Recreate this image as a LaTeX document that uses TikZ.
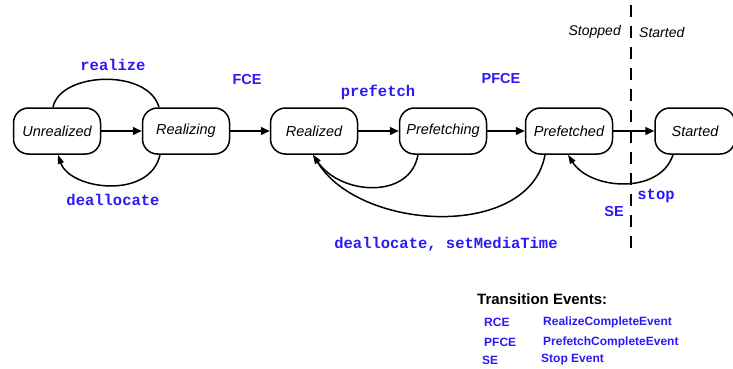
\documentclass[tikz,border=0pt]{standalone}
\usepackage{fontspec}
\setmainfont{Liberation Sans}
\newfontfamily\monob{Liberation Mono}[BoldFont={* Bold}]
\usetikzlibrary{arrows.meta}
\definecolor{lblue}{RGB}{45,25,245}
\tikzset{
  state/.style={draw, line width=1.5pt, rounded corners=15pt, minimum width=87pt, minimum height=46pt, inner sep=0pt, font=\fontsize{14.5}{16}\selectfont\itshape},
  tr/.style={line width=1.5pt, -{Triangle[length=9pt,width=8pt]}},
  arc/.style={line width=1.5pt},
  arcar/.style={line width=1.5pt, -{Triangle[length=9pt,width=6pt]}},
  cmd/.style={text=lblue, font=\fontsize{15.5}{17}\selectfont\monob\bfseries, inner sep=0pt},
  ev/.style={text=lblue, font=\fontsize{14.5}{16}\selectfont\bfseries, inner sep=0pt},
  leg/.style={text=lblue, font=\fontsize{12}{14}\selectfont\bfseries, inner sep=0pt, anchor=west},
}
\begin{document}
\begin{tikzpicture}[x=1pt,y=-1pt]
\useasboundingbox (0,0) rectangle (733,369);
% states
\node[state] (u)  at (57,131)  {Unrealized};
\node[state] (rz) at (186,131) {Realizing};
\node[state] (rd) at (314,131) {Realized};
\node[state] (pf) at (443,131) {Prefetching};
\node[state] (pd) at (569,131) {Prefetched};
\node[state, minimum width=80pt] (st) at (695,131) {Started};
% straight transitions
\draw[tr] (u) -- (rz);
\draw[tr] (rz) -- (rd);
\draw[tr] (rd) -- (pf);
\draw[tr] (pf) -- (pd);
\draw[tr] (pd) -- (st);
% realize / deallocate
\draw[arc] ([xshift=-4pt]u.north) .. controls (60,72) and (148,68) .. ([xshift=-27pt]rz.north);
\draw[arcar] ([xshift=-26pt]rz.south) .. controls (150,200) and (70,190) .. ([xshift=1pt]u.south);
% back to realized
\draw[arcar] ([xshift=-25pt]pf.south) .. controls (410,200) and (340,195) .. ([xshift=-1pt]rd.south);
\draw[arcar] ([xshift=-24pt]pd.south) .. controls (530,240) and (360,232) .. ([xshift=-1pt]rd.south);
% stop
\draw[arcar] ([xshift=-22pt]st.south) .. controls (660,195) and (590,190) .. ([xshift=-1pt]pd.south);
% dashed boundary
\coordinate (dtop) at (631,5);
\coordinate (dbot) at (631,256);
\draw[line width=1.2pt, dash pattern=on 12pt off 9pt] (dtop) -- (dbot);
% labels
\node[cmd] (lrealize) at (113,65) {realize};
\node[cmd] (ldealloc) at (113,200) {deallocate};
\node[ev] (lfce) at (247,80) {FCE};
\node[cmd] (lprefetch) at (378,92) {prefetch};
\node[ev] (lpfce) at (501,79) {PFCE};
\node[cmd] (ldset) at (446,244) {deallocate, setMediaTime};
\node[cmd] (lstop) at (656,196) {stop};
\node[ev] (lse) at (614,212) {SE};
\node[font=\fontsize{14}{16}\selectfont\itshape, anchor=east, inner sep=0pt] (lstopped) at (621,32) {Stopped};
\node[font=\fontsize{14}{16}\selectfont\itshape, anchor=west, inner sep=0pt] (lstarted) at (639,32) {Started};
% legend
\node[font=\fontsize{15}{17}\selectfont\bfseries, anchor=west, inner sep=0pt] (legt) at (477,299) {Transition Events:};
\node[leg] (l1a) at (484,322) {RCE};
\node[leg] (l1b) at (543,322) {RealizeCompleteEvent};
\node[leg] (l2a) at (484,342) {PFCE};
\node[leg] (l2b) at (543,342) {PrefetchCompleteEvent};
\node[leg] (l3a) at (482,360) {SE};
\node[leg] (l3b) at (541,360) {Stop Event};
\end{tikzpicture}
\end{document}
